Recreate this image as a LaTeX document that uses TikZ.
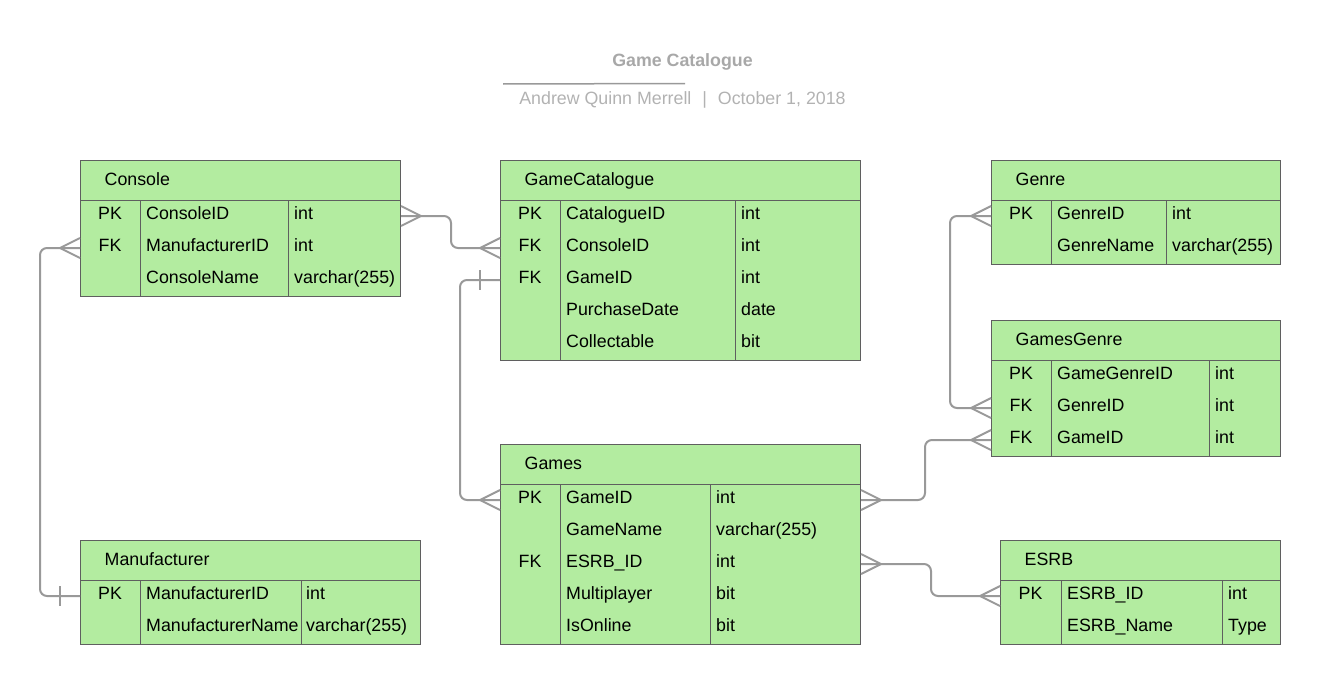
\documentclass[tikz,border=0pt]{standalone}
\usepackage{fontspec}
\setmainfont{Liberation Sans}

\definecolor{tblfill}{RGB}{179,236,160}
\definecolor{tblline}{RGB}{95,95,95}
\definecolor{relgray}{RGB}{153,153,153}
\definecolor{titlegray}{RGB}{168,168,168}
\definecolor{bylinegray}{RGB}{178,178,178}

\begin{document}
\begin{tikzpicture}[x=1pt, y=-1pt,
    tbl/.style={draw=tblline, fill=tblfill, line width=1pt, anchor=north west, inner sep=0pt},
    sep/.style={draw=tblline, line width=1pt},
    hdr/.style={anchor=west, inner sep=0pt, text height=12.5pt, text depth=2.5pt, font=\fontsize{17.8pt}{21pt}\selectfont},
    key/.style={inner sep=0pt, text height=12pt, text depth=5pt, font=\fontsize{17.8pt}{21pt}\selectfont},
    cell/.style={key, anchor=west},
    rel/.style={draw=relgray, line width=2pt, rounded corners=7pt},
    crow/.pic={\draw[relgray, line width=2pt] (0,-10) -- (20,0) -- (0,10);},
    bar/.pic={\draw[relgray, line width=2pt] (20,-10) -- (20,10);}]
    \useasboundingbox (0,0) rectangle (1321,685);

    % title
    \node[anchor=base, text=titlegray, font=\bfseries\fontsize{17.8pt}{21pt}\selectfont] (title) at (682.5,66.5) {Game Catalogue};
    \draw[relgray, line width=1.5pt] (503,84) -- (685,83.5);
    \node[anchor=base, text=bylinegray, font=\fontsize{17.8pt}{21pt}\selectfont] (byline) at (682.5,104.5) {Andrew Quinn Merrell\hspace{6pt} |\hspace{6pt} October 1, 2018};

    % Console
    \node[tbl, minimum width=320pt, minimum height=136pt] (console) at (80,160) {};
    \draw[sep] (80,200) -- (400,200) (140,200) -- (140,296) (288,200) -- (288,296);
    \node[hdr] (cs-h) at (104.5,180) {Console};
    \node[key] (cs1k) at (110,216) {PK};
    \node[cell] (cs1n) at (146,216) {ConsoleID};
    \node[cell] (cs1t) at (294,216) {int};
    \node[key] (cs2k) at (110,248) {FK};
    \node[cell] (cs2n) at (146,248) {ManufacturerID};
    \node[cell] (cs2t) at (294,248) {int};
    \node[cell] (cs3n) at (146,280) {ConsoleName};
    \node[cell] (cs3t) at (294,280) {varchar(255)};

    % GameCatalogue
    \node[tbl, minimum width=360pt, minimum height=200pt] (gamecat) at (500,160) {};
    \draw[sep] (500,200) -- (860,200) (560,200) -- (560,360) (735,200) -- (735,360);
    \node[hdr] (gc-h) at (524.5,180) {GameCatalogue};
    \node[key] (gc1k) at (530,216) {PK};
    \node[cell] (gc1n) at (566,216) {CatalogueID};
    \node[cell] (gc1t) at (741,216) {int};
    \node[key] (gc2k) at (530,248) {FK};
    \node[cell] (gc2n) at (566,248) {ConsoleID};
    \node[cell] (gc2t) at (741,248) {int};
    \node[key] (gc3k) at (530,280) {FK};
    \node[cell] (gc3n) at (566,280) {GameID};
    \node[cell] (gc3t) at (741,280) {int};
    \node[cell] (gc4n) at (566,312) {PurchaseDate};
    \node[cell] (gc4t) at (741,312) {date};
    \node[cell] (gc5n) at (566,344) {Collectable};
    \node[cell] (gc5t) at (741,344) {bit};

    % Genre
    \node[tbl, minimum width=289pt, minimum height=104pt] (genre) at (991,160) {};
    \draw[sep] (991,200) -- (1280,200) (1051,200) -- (1051,264) (1166,200) -- (1166,264);
    \node[hdr] (gn-h) at (1015.5,180) {Genre};
    \node[key] (gn1k) at (1021,216) {PK};
    \node[cell] (gn1n) at (1057,216) {GenreID};
    \node[cell] (gn1t) at (1172,216) {int};
    \node[cell] (gn2n) at (1057,248) {GenreName};
    \node[cell] (gn2t) at (1172,248) {varchar(255)};

    % GamesGenre
    \node[tbl, minimum width=289pt, minimum height=136pt] (gamesgenre) at (991,320) {};
    \draw[sep] (991,360) -- (1280,360) (1051,360) -- (1051,456) (1209,360) -- (1209,456);
    \node[hdr] (gg-h) at (1015.5,340) {GamesGenre};
    \node[key] (gg1k) at (1021,376) {PK};
    \node[cell] (gg1n) at (1057,376) {GameGenreID};
    \node[cell] (gg1t) at (1215,376) {int};
    \node[key] (gg2k) at (1021,408) {FK};
    \node[cell] (gg2n) at (1057,408) {GenreID};
    \node[cell] (gg2t) at (1215,408) {int};
    \node[key] (gg3k) at (1021,440) {FK};
    \node[cell] (gg3n) at (1057,440) {GameID};
    \node[cell] (gg3t) at (1215,440) {int};

    % Games
    \node[tbl, minimum width=360pt, minimum height=200pt] (games) at (500,444) {};
    \draw[sep] (500,484) -- (860,484) (560,484) -- (560,644) (710,484) -- (710,644);
    \node[hdr] (gm-h) at (524.5,464) {Games};
    \node[key] (gm1k) at (530,500) {PK};
    \node[cell] (gm1n) at (566,500) {GameID};
    \node[cell] (gm1t) at (716,500) {int};
    \node[cell] (gm2n) at (566,532) {GameName};
    \node[cell] (gm2t) at (716,532) {varchar(255)};
    \node[key] (gm3k) at (530,564) {FK};
    \node[cell] (gm3n) at (566,564) {ESRB\_ID};
    \node[cell] (gm3t) at (716,564) {int};
    \node[cell] (gm4n) at (566,596) {Multiplayer};
    \node[cell] (gm4t) at (716,596) {bit};
    \node[cell] (gm5n) at (566,628) {IsOnline};
    \node[cell] (gm5t) at (716,628) {bit};

    % Manufacturer
    \node[tbl, minimum width=340pt, minimum height=104pt] (manuf) at (80,540) {};
    \draw[sep] (80,580) -- (420,580) (140,580) -- (140,644) (301,580) -- (301,644);
    \node[hdr] (mf-h) at (104.5,560) {Manufacturer};
    \node[key] (mf1k) at (110,596) {PK};
    \node[cell] (mf1n) at (146,596) {ManufacturerID};
    \node[cell] (mf1t) at (306,596) {int};
    \node[cell] (mf2n) at (146,628) {ManufacturerName};
    \node[cell] (mf2t) at (306,628) {varchar(255)};

    % ESRB
    \node[tbl, minimum width=280pt, minimum height=104pt] (esrb) at (1000,540) {};
    \draw[sep] (1000,580) -- (1280,580) (1061,580) -- (1061,644) (1222,580) -- (1222,644);
    \node[hdr] (es-h) at (1024.5,560) {ESRB};
    \node[key] (es1k) at (1030.5,596) {PK};
    \node[cell] (es1n) at (1067,596) {ESRB\_ID};
    \node[cell] (es1t) at (1228,596) {int};
    \node[cell] (es2n) at (1067,628) {ESRB\_Name};
    \node[cell] (es2t) at (1228,628) {Type};

    % relations
    \draw[rel] (console.east |- cs1k) -- ++(50,0) |- (gamecat.west |- gc2k);
    \pic at (console.east |- cs1k) {crow};
    \pic[xscale=-1] at (gamecat.west |- gc2k) {crow};

    \draw[rel] (console.west |- cs2k) -- ++(-40,0) |- (manuf.west |- mf1k);
    \pic[xscale=-1] at (console.west |- cs2k) {crow};
    \pic[xscale=-1] at (manuf.west |- mf1k) {bar};

    \draw[rel] (gamecat.west |- gc3k) -- ++(-40,0) |- (games.west |- gm1k);
    \pic[xscale=-1] at (gamecat.west |- gc3k) {bar};
    \pic[xscale=-1] at (games.west |- gm1k) {crow};

    \draw[rel] (genre.west |- gn1k) -- ++(-41,0) |- (gamesgenre.west |- gg2k);
    \pic[xscale=-1] at (genre.west |- gn1k) {crow};
    \pic[xscale=-1] at (gamesgenre.west |- gg2k) {crow};

    \draw[rel] (gamesgenre.west |- gg3k) -- ++(-66,0) |- (games.east |- gm1k);
    \pic[xscale=-1] at (gamesgenre.west |- gg3k) {crow};
    \pic at (games.east |- gm1k) {crow};

    \draw[rel] (games.east |- gm3k) -- ++(70,0) |- (esrb.west |- es1k);
    \pic at (games.east |- gm3k) {crow};
    \pic[xscale=-1] at (esrb.west |- es1k) {crow};
\end{tikzpicture}
\end{document}
